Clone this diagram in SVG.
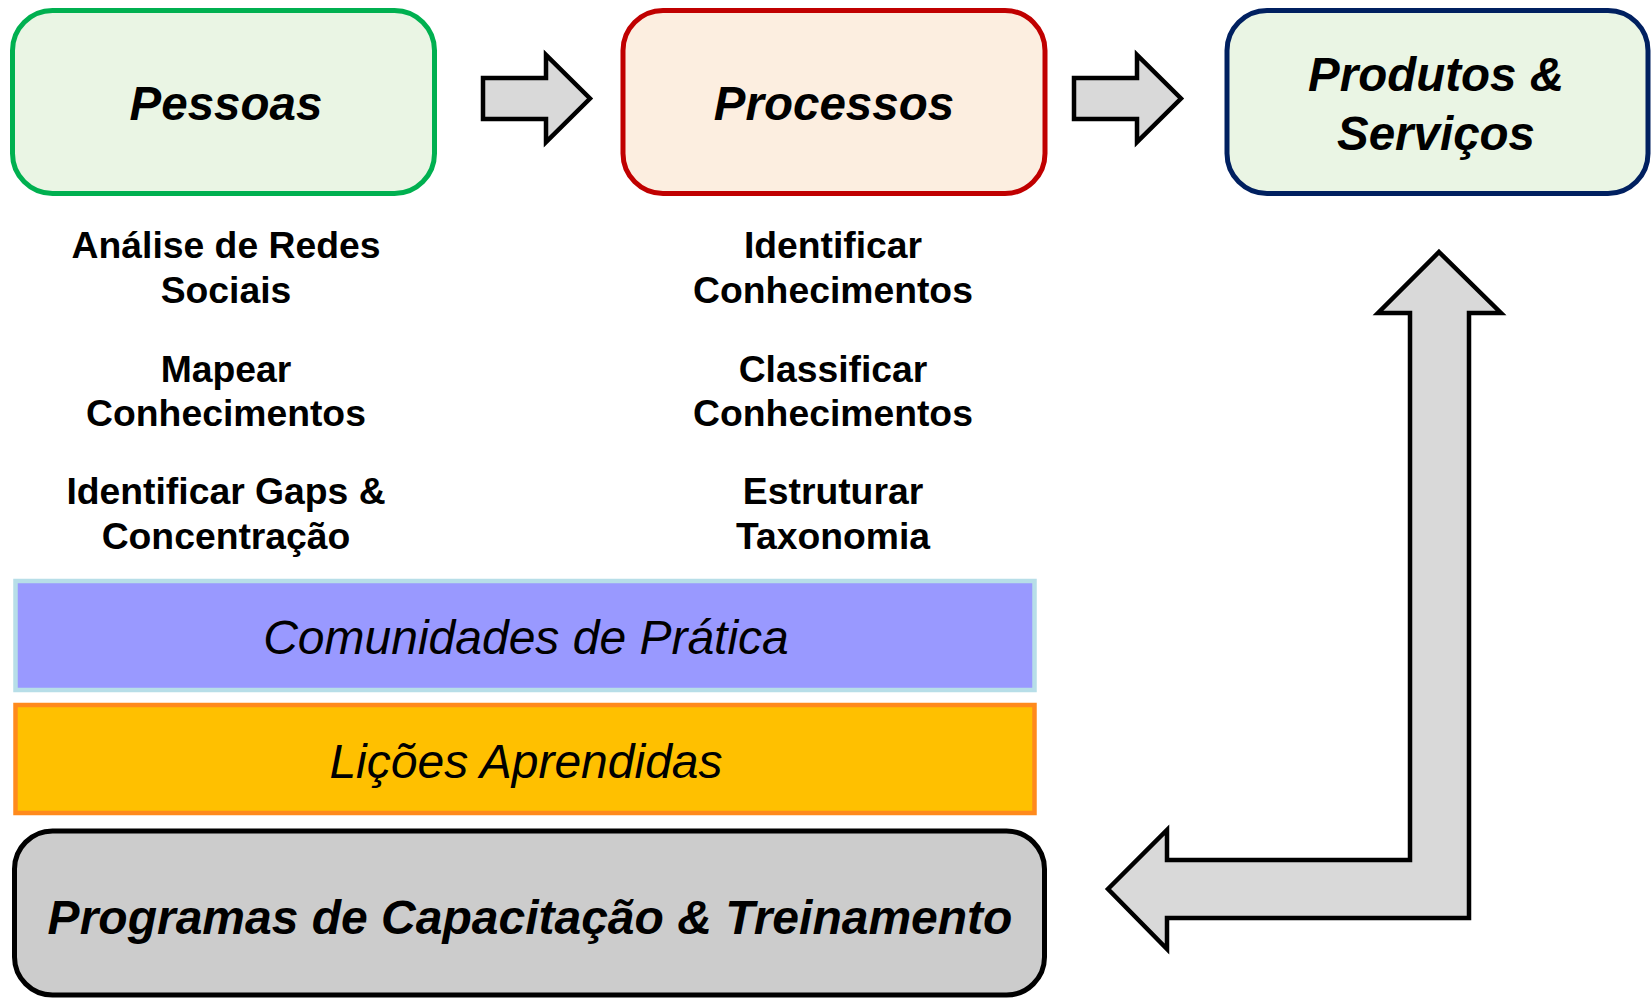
<svg xmlns="http://www.w3.org/2000/svg" width="1652" height="1000" viewBox="0 0 1652 1000">
<style>
.t{font-family:"Liberation Sans",Arial,sans-serif;text-anchor:middle;fill:#000}
.h{font-size:47.5px;font-weight:bold;font-style:italic}
.s{font-size:37.3px;font-weight:bold}
.b{font-size:48px;font-style:italic}
.arr{fill:#D9D9D9;stroke:#000;stroke-width:4.5;stroke-linejoin:miter}
</style>
<rect width="1652" height="1000" fill="#fff"/>
<g id="pessoas">
<rect x="12.5" y="10.5" width="422" height="183" rx="40" fill="#EAF5E4" stroke="#00B050" stroke-width="5"/>
<text class="t h" x="226" y="120">Pessoas</text>
</g>
<g id="processos">
<rect x="623" y="10.5" width="422" height="183" rx="40" fill="#FCEEE0" stroke="#C00000" stroke-width="5"/>
<text class="t h" x="834" y="120">Processos</text>
</g>
<g id="produtos">
<rect x="1227" y="10.5" width="421" height="183" rx="40" fill="#EAF5E4" stroke="#002060" stroke-width="5"/>
<text class="t h" x="1436" y="91">Produtos &amp;</text>
<text class="t h" x="1436" y="150">Serviços</text>
</g>
<g id="pessoas-itens">
<text class="t s" x="226" y="258">Análise de Redes</text>
<text class="t s" x="226" y="303">Sociais</text>
<text class="t s" x="226" y="382">Mapear</text>
<text class="t s" x="226" y="426">Conhecimentos</text>
<text class="t s" x="226" y="504">Identificar Gaps &amp;</text>
<text class="t s" x="226" y="549">Concentração</text>
</g>
<g id="processos-itens">
<text class="t s" x="833" y="258">Identificar</text>
<text class="t s" x="833" y="303">Conhecimentos</text>
<text class="t s" x="833" y="382">Classificar</text>
<text class="t s" x="833" y="426">Conhecimentos</text>
<text class="t s" x="833" y="504">Estruturar</text>
<text class="t s" x="833" y="549">Taxonomia</text>
</g>
<g id="comunidades">
<rect x="15.5" y="581" width="1019" height="109" fill="#9999FF" stroke="#B7DEE8" stroke-width="4.5"/>
<text class="t b" x="526" y="654">Comunidades de Prática</text>
</g>
<g id="licoes">
<rect x="15.5" y="705" width="1019" height="108" fill="#FFC000" stroke="#FF8A1C" stroke-width="4.5"/>
<text class="t b" x="526" y="778">Lições Aprendidas</text>
</g>
<g id="programas">
<rect x="14.5" y="831" width="1030" height="164" rx="38" fill="#CCCCCC" stroke="#000" stroke-width="5"/>
<text class="t h" x="530" y="934" style="font-size:48px">Programas de Capacitação &amp; Treinamento</text>
</g>
<g id="connectors">
<path class="arr" d="M483 78 H546 V55 L590 98.5 L546 142 V119 H483 Z"/>
<path class="arr" d="M1074 78 H1137 V55 L1181 98.5 L1137 142 V119 H1074 Z"/>
<path class="arr" d="M1439 252 L1501 313 H1469 V918 H1167 V949 L1108 889 L1167 830 V860 H1410 V313 H1378 Z"/>
</g>
</svg>
